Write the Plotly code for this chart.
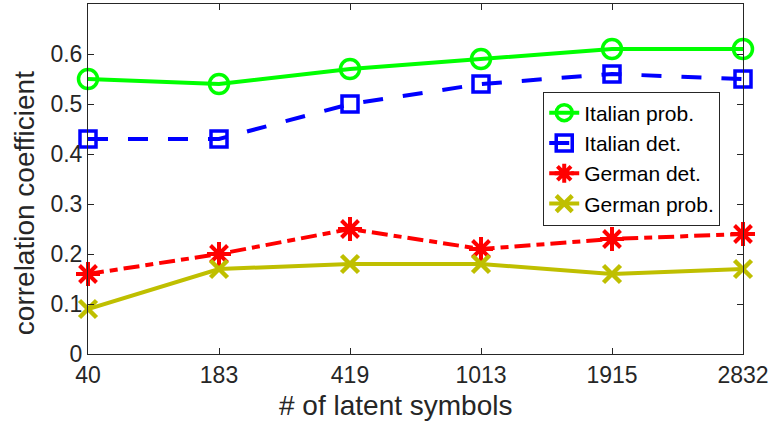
import plotly.graph_objects as go

categories = ["40", "183", "419", "1013", "1915", "2832"]
italian_prob = [0.55, 0.54, 0.57, 0.59, 0.61, 0.61]
italian_det = [0.43, 0.43, 0.50, 0.54, 0.56, 0.55]
german_det = [0.16, 0.20, 0.25, 0.21, 0.23, 0.24]
german_prob = [0.09, 0.17, 0.18, 0.18, 0.16, 0.17]
y_ticks = [0, 0.1, 0.2, 0.3, 0.4, 0.5, 0.6]
y_tick_text = ["0", "0.1", "0.2", "0.3", "0.4", "0.5", "0.6"]
x_title = "# of latent symbols"
y_title = "correlation coefficient"

fig = go.Figure()
fig.add_trace(go.Scatter(x=categories, y=italian_prob, name="Italian prob.", mode="lines+markers",
                         line=dict(color="#00FF00", width=4),
                         marker=dict(symbol="circle-open", size=19, line=dict(width=3.5, color="#00FF00")),
                         cliponaxis=False))
fig.add_trace(go.Scatter(x=categories, y=italian_det, name="Italian det.", mode="lines+markers",
                         line=dict(color="#0000FF", width=4, dash="20px,20px"),
                         marker=dict(symbol="square-open", size=16, line=dict(width=3.5, color="#0000FF")),
                         cliponaxis=False))
fig.add_trace(go.Scatter(x=categories, y=german_det, name="German det.", mode="lines+markers",
                         line=dict(color="#FF0000", width=4, dash="16px,6px,8px,6px"),
                         marker=dict(symbol="asterisk-open", size=20, line=dict(width=4, color="#FF0000")),
                         cliponaxis=False))
fig.add_trace(go.Scatter(x=categories, y=german_prob, name="German prob.", mode="lines+markers",
                         line=dict(color="#BFBF00", width=4),
                         marker=dict(symbol="x-thin-open", size=17, line=dict(width=4.5, color="#BFBF00")),
                         cliponaxis=False))

axis_common = dict(showline=True, linecolor="#262626", linewidth=1, mirror="ticks",
                   ticks="inside", ticklen=6, tickcolor="#262626", showgrid=False, zeroline=False,
                   automargin=False,
                   tickfont=dict(family="Liberation Sans", size=23, color="#262626"))

fig.update_layout(
    width=770, height=425,
    margin=dict(l=88, r=27, t=4, b=71),
    paper_bgcolor="white", plot_bgcolor="white",
    font=dict(family="Liberation Sans", color="#262626"),
    xaxis=dict(type="category", range=[0, 5], **axis_common),
    yaxis=dict(range=[0, 0.7], tickvals=y_ticks, ticktext=y_tick_text, **axis_common),
    legend=dict(x=0.695, y=0.75, xanchor="left", yanchor="top",
                bgcolor="white", bordercolor="#262626", borderwidth=1,
                font=dict(family="Liberation Sans", size=21, color="black"),
                itemwidth=30, tracegroupgap=0),
    showlegend=True,
    annotations=[
        dict(text=x_title, xref="paper", yref="paper", x=0.469, y=-0.146,
             xanchor="center", yanchor="middle", showarrow=False,
             font=dict(family="Liberation Sans", size=28, color="#262626")),
        dict(text=y_title, xref="paper", yref="paper", x=-0.0977, y=0.431,
             xanchor="center", yanchor="middle", textangle=-90, showarrow=False,
             font=dict(family="Liberation Sans", size=28, color="#262626")),
    ],
)

fig.write_html("out.html", config={"displayModeBar": False},
               post_script="document.body.style.margin='0';document.body.style.overflow='hidden';")
